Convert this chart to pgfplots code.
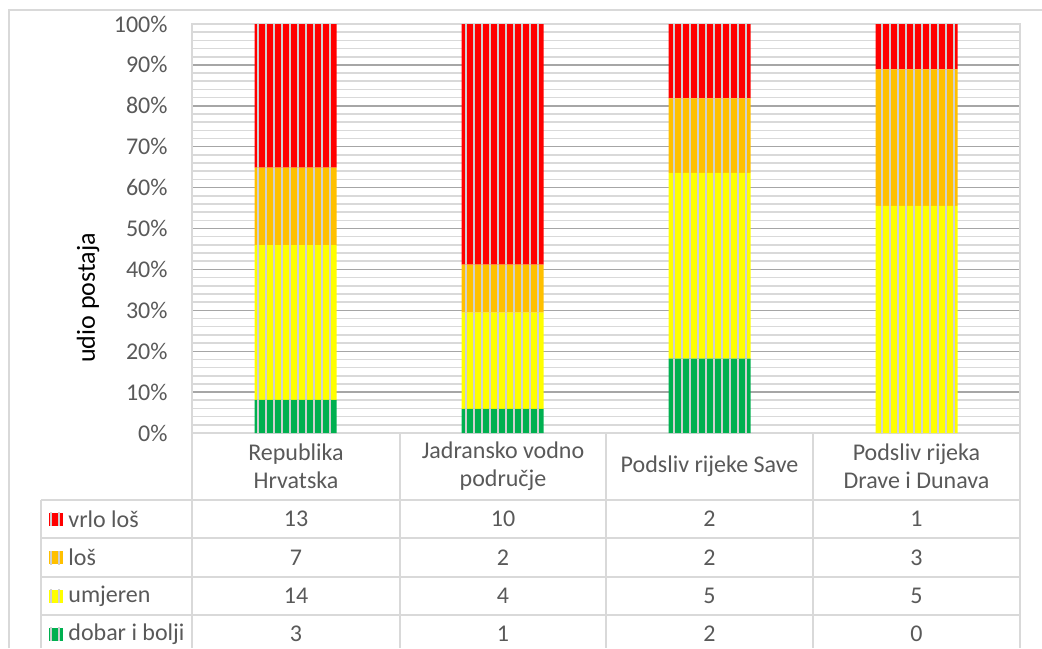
\documentclass[border=0pt]{standalone}
\usepackage{pgfplots}
\pgfplotsset{compat=1.18}
\usepackage{pgfplotstable}
\usetikzlibrary{patterns.meta}
\usepackage{fontspec}
\setmainfont{Carlito}

\definecolor{vrlolos}{HTML}{FF0000}
\definecolor{los}{HTML}{FFC000}
\definecolor{umjeren}{HTML}{FFFF00}
\definecolor{dobar}{HTML}{00B050}
\definecolor{txt}{HTML}{595959}
\definecolor{lightline}{HTML}{D9D9D9}
\definecolor{stripe}{HTML}{D0D0D0}
\definecolor{majgrid}{HTML}{A6A6A6}

% thin vertical light stripes laid over the bar fill
\tikzdeclarepattern{
  name=vstripes, type=uncolored,
  bounding box={(0,0) and (4.15pt,330pt)},
  tile size={(4.15pt,330pt)},
  code={\fill (0,0) rectangle (1pt,330pt);}
}

% share of stations (%), from counts 13/7/14/3, 10/2/4/1, 2/2/5/2, 1/3/5/0
\pgfplotstableread{
x dobar umjeren los vrlolos
0 8.11  37.84 18.92 35.14
1 5.88  23.53 11.76 58.82
2 18.18 45.45 18.18 18.18
3 0     55.56 33.33 11.11
}\shares

\newcommand{\tf}{\fontsize{12}{14}\selectfont}

\begin{document}
\begin{tikzpicture}
\useasboundingbox (0pt,0pt) rectangle (521pt,-324pt);

\begin{axis}[
    at={(96pt,-216.5pt)}, anchor=south west,
    scale only axis, width=414pt, height=204.5pt,
    ybar stacked, bar width=41pt,
    xmin=-0.5, xmax=3.5, ymin=0, ymax=100,
    xtick=\empty,
    ytick={0,10,...,100},
    yticklabels={0\%,10\%,20\%,30\%,40\%,50\%,60\%,70\%,80\%,90\%,100\%},
    minor y tick num=4,
    ymajorgrids, yminorgrids,
    major grid style={draw=majgrid, line width=0.7pt},
    minor grid style={draw=lightline, line width=0.8pt},
    axis line style={draw=lightline, line width=1pt},
    major tick length=0pt, minor tick length=0pt,
    yticklabel style={text=txt, font=\tf, xshift=-8.7pt},
]
\addplot[fill=dobar, draw=none, postaction={pattern=vstripes, pattern color=stripe}]
    table[x=x, y=dobar] {\shares};
\addplot[fill=umjeren, draw=none, postaction={pattern=vstripes, pattern color=stripe}]
    table[x=x, y=umjeren] {\shares};
\addplot[fill=los, draw=none, postaction={pattern=vstripes, pattern color=stripe}]
    table[x=x, y=los] {\shares};
\addplot[fill=vrlolos, draw=none, postaction={pattern=vstripes, pattern color=stripe}]
    table[x=x, y=vrlolos] {\shares};
\end{axis}

\begin{scope}[x=0.5pt, y=-0.5pt]
  % outer chart frame
  \draw[lightline, line width=1pt] (9,648) -- (9,10) -- (1042,10);
  % y label
  \node[rotate=90, font=\fontsize{13}{15}\selectfont] at (88,298) {udio postaja};
  % data table grid
  \begin{scope}[lightline, line width=1pt]
    \foreach \yy in {500,538,577,615} \draw (41,\yy) -- (1020,\yy);
    \foreach \xx in {192,400,606,813,1020} \draw (\xx,433) -- (\xx,648);
    \draw (41,500) -- (41,648);
  \end{scope}
  \begin{scope}[font=\tf, text=txt]
    \node[align=center] at (296,466)   {Republika\\Hrvatska};
    \node[align=center] at (503,466)   {Jadransko vodno\\područje};
    \node[align=center] at (709.5,466) {Podsliv rijeke Save};
    \node[align=center] at (916.5,466) {Podsliv rijeka\\Drave i Dunava};
    % row labels with keys
    \foreach \c/\lab/\yy in {vrlolos/vrlo loš/519, los/loš/557.5, umjeren/umjeren/596, dobar/dobar i bolji/634} {
      \fill[\c] (49,\yy-6.5) rectangle (63,\yy+6.5);
      \fill[pattern=vstripes, pattern color=stripe] (49,\yy-6.5) rectangle (63,\yy+6.5);
      \node[anchor=west, inner sep=0pt] at (68,\yy) {\lab};
    }
    % counts
    \foreach \a/\b/\c/\d/\yy in {13/10/2/1/519, 7/2/2/3/557.5, 14/4/5/5/596, 3/1/2/0/634} {
      \node at (296,\yy) {\a};
      \node at (503,\yy) {\b};
      \node at (709.5,\yy) {\c};
      \node at (916.5,\yy) {\d};
    }
  \end{scope}
\end{scope}
\end{tikzpicture}
\end{document}
